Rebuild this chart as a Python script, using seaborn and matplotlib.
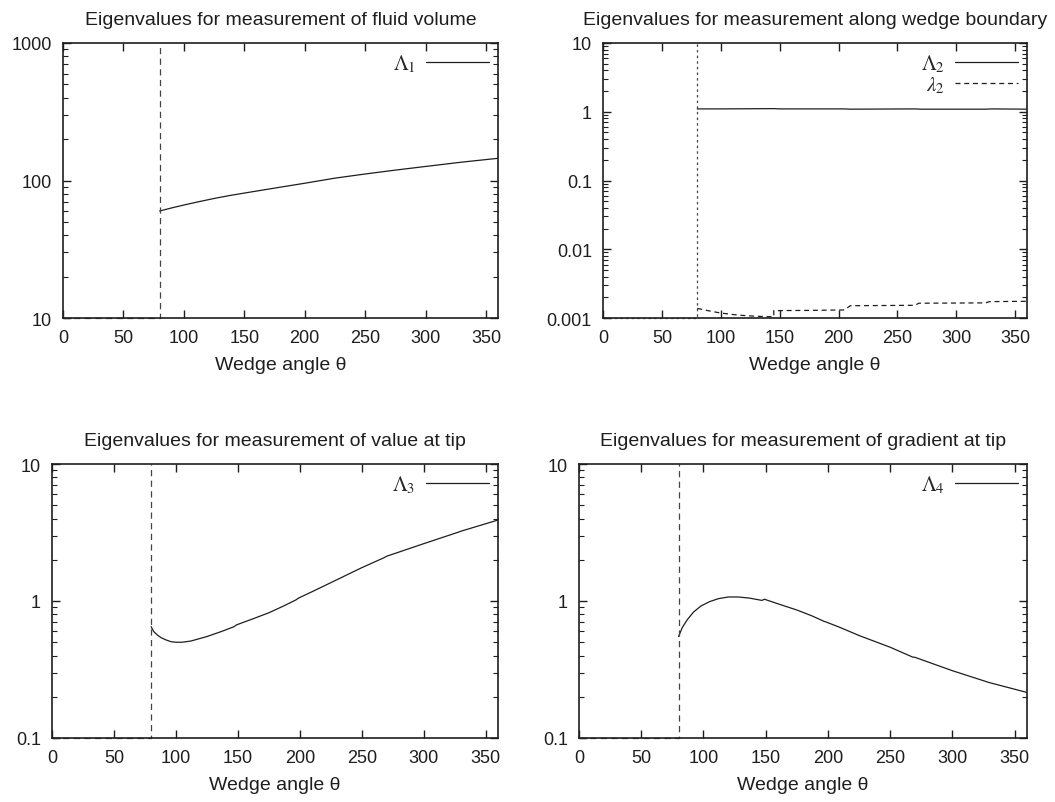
import numpy as np
import pandas as pd
import matplotlib
matplotlib.use("Agg")
import matplotlib.pyplot as plt
import seaborn as sns
from matplotlib.ticker import LogLocator, FuncFormatter, MultipleLocator, NullFormatter

# critical wedge angle (below it the eigenvalues are not defined)
critical_angle = 80

# Lambda_1 : measurement of fluid volume
lam1_theta = [80, 90, 100, 112, 125, 137, 150, 175, 200, 225, 250, 275, 300, 330, 360]
lam1_vals = [60, 63.2, 66.3, 70, 74, 77.5, 81, 88, 95.5, 104, 111.5, 119, 126.5, 136, 145]

# Lambda_2 / lambda_2 : measurement along wedge boundary
Lam2_theta = [80, 100, 145, 150, 205, 210, 265, 270, 325, 330, 360]
Lam2_vals = [1.10, 1.10, 1.11, 1.10, 1.10, 1.09, 1.10, 1.09, 1.09, 1.10, 1.09]
small2_theta = [80, 90, 100, 115, 130, 145, 145, 175, 205, 210, 240, 265,
                268, 300, 325, 328, 360]
small2_vals = [0.00138, 0.00127, 0.00118, 0.00110, 0.00106, 0.00104, 0.00128,
               0.00129, 0.00131, 0.00151, 0.00152, 0.00153, 0.00164, 0.00165,
               0.00166, 0.00173, 0.00175]

# Lambda_3 : value at tip
lam3_theta = [80, 82, 85, 88, 92, 96, 100, 105, 112, 125, 137, 147, 149, 162,
              175, 187, 197, 199, 210, 225, 250, 268, 270, 300, 328, 330, 360]
lam3_vals = [0.65, 0.60, 0.565, 0.54, 0.52, 0.505, 0.50, 0.50, 0.51, 0.55,
             0.60, 0.65, 0.67, 0.74, 0.82, 0.92, 1.02, 1.05, 1.17, 1.36, 1.75,
             2.07, 2.12, 2.62, 3.18, 3.23, 3.9]

# Lambda_4 : gradient at tip
lam4_theta = [80, 83, 87, 92, 98, 105, 112, 120, 128, 137, 147, 149, 162, 175,
              187, 197, 199, 210, 225, 250, 268, 270, 300, 329, 331, 360]
lam4_vals = [0.55, 0.64, 0.73, 0.83, 0.92, 0.99, 1.04, 1.07, 1.07, 1.05,
             1.01, 1.03, 0.94, 0.86, 0.78, 0.71, 0.70, 0.64, 0.56, 0.46, 0.39,
             0.388, 0.31, 0.255, 0.252, 0.215]

titles = ["Eigenvalues for measurement of fluid volume",
          "Eigenvalues for measurement along wedge boundary",
          "Eigenvalues for measurement of value at tip",
          "Eigenvalues for measurement of gradient at tip"]
ylims = [(10, 1000), (0.001, 10), (0.1, 10), (0.1, 10)]

sns.set_style("ticks")
plt.rcParams["font.family"] = ["Liberation Sans", "DejaVu Sans"]
plt.rcParams["mathtext.fontset"] = "stix"

ink = "#1e1e1e"
W, H = 1055, 803
fig = plt.figure(figsize=(W / 100, H / 100), dpi=100)


def rect(left, top, right, bottom):
    return [left / W, 1 - bottom / H, (right - left) / W, (bottom - top) / H]


axes = [fig.add_axes(rect(63, 44, 498, 319)),
        fig.add_axes(rect(603, 44, 1027, 319)),
        fig.add_axes(rect(52, 465, 498, 739)),
        fig.add_axes(rect(579, 465, 1027, 739))]


def draw_boundary(ax, ylim, dashes):
    df = pd.DataFrame({"theta": [0, critical_angle, critical_angle],
                       "val": [ylim[0], ylim[0], ylim[1]]})
    sns.lineplot(data=df, x="theta", y="val", ax=ax, sort=False, estimator=None,
                 color="#444444", lw=0.9, legend=False, clip_on=False)
    ax.lines[-1].set_dashes(dashes)


def curve(ax, theta, vals, label, dashes=None):
    df = pd.DataFrame({"theta": theta, "val": vals})
    sns.lineplot(data=df, x="theta", y="val", ax=ax, sort=False, estimator=None,
                 color=ink, lw=0.9, label=label)
    if dashes is not None:
        ax.lines[-1].set_dashes(dashes)


curve(axes[0], lam1_theta, lam1_vals, r"$\Lambda_1$")
curve(axes[1], Lam2_theta, Lam2_vals, r"$\Lambda_2$")
curve(axes[1], small2_theta, small2_vals, r"$\lambda_2$", dashes=(4, 3))
curve(axes[2], lam3_theta, lam3_vals, r"$\Lambda_3$")
curve(axes[3], lam4_theta, lam4_vals, r"$\Lambda_4$")

for i, ax in enumerate(axes):
    ylim = ylims[i]
    draw_boundary(ax, ylim, (2, 2.5) if i == 1 else (5, 3.5))
    ax.set_yscale("log")
    ax.set_xlim(0, 360)
    ax.set_ylim(*ylim)
    ax.xaxis.set_major_locator(MultipleLocator(50))
    ax.yaxis.set_major_locator(LogLocator(base=10, numticks=10))
    ax.yaxis.set_minor_locator(LogLocator(base=10, subs=np.arange(2, 10), numticks=10))
    ax.yaxis.set_major_formatter(FuncFormatter(lambda v, p: f"{v:g}"))
    ax.yaxis.set_minor_formatter(NullFormatter())
    ax.tick_params(which="both", direction="in", top=True, right=True,
                   color=ink, labelcolor=ink, labelsize=13)
    ax.tick_params(axis="x", which="major", pad=8)
    ax.tick_params(axis="y", which="major", pad=8)
    ax.tick_params(which="major", length=6, width=1)
    ax.tick_params(which="minor", length=3.5, width=0.8)
    for sp in ax.spines.values():
        sp.set_visible(True)
        sp.set_linewidth(1.2)
        sp.set_color(ink)
    ax.set_title(titles[i], fontsize=14, color=ink, pad=14)
    ax.set_xlabel("Wedge angle θ", fontsize=14, color=ink, labelpad=7)
    ax.set_ylabel("")
    ax.legend(loc="upper right", frameon=False, markerfirst=False, fontsize=15,
              handlelength=3.0, handletextpad=0.5, labelspacing=0.0,
              borderaxespad=0.15, borderpad=0.3)

fig.savefig("out.png", dpi=100)
